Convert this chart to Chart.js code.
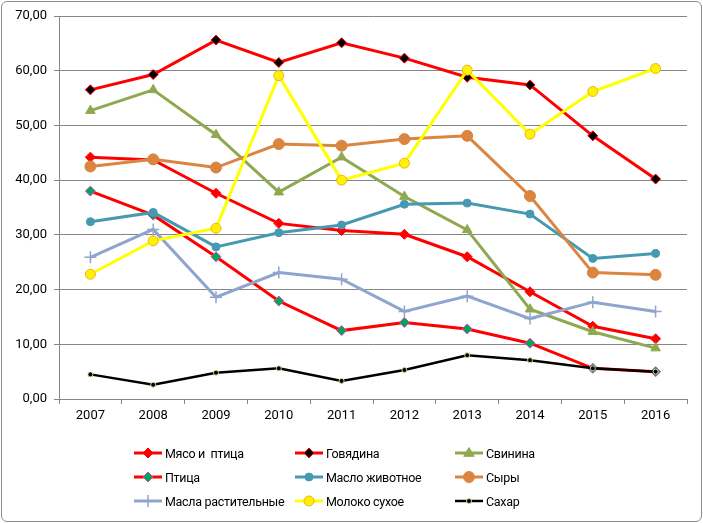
<!DOCTYPE html>
<html>
<head>
<meta charset="utf-8">
<script src="https://cdn.jsdelivr.net/npm/chart.js@4.4.0/dist/chart.umd.min.js"></script>
<style>
  html, body { margin: 0; padding: 0; background: #fff; }
  #wrap { position: relative; width: 703px; height: 523px; }
  #frame { position: absolute; left: 1px; top: 1px; width: 699px; height: 519px; border: 1px solid #8c8c8c; border-radius: 6px; pointer-events: none; }
  canvas { position: absolute; left: 0; top: 0; }
  #legend { position: absolute; left: 0; top: 0; width: 703px; height: 523px; pointer-events: none; font-family: Roboto, "Liberation Sans", sans-serif; font-size: 12.5px; letter-spacing: -0.3px; color: #000; }
  .item { position: absolute; height: 20px; display: flex; align-items: center; white-space: pre; }
  .item svg { margin-right: 2px; }
</style>
</head>
<body>
<div id="wrap">
  <canvas id="c" width="703" height="523"></canvas>
  <div id="legend"></div>
  <div id="frame"></div>
</div>
<script>
const categories = ['2007','2008','2009','2010','2011','2012','2013','2014','2015','2016'];
const seriesNames = ['Мясо и  птица','Говядина','Свинина','Птица','Масло животное','Сыры','Масла растительные','Молоко сухое','Сахар'];

const myasoIPtitsa     = [44.2, 43.7, 37.6, 32.1, 30.8, 30.1, 26.0, 19.6, 13.3, 11.0];
const govyadina        = [56.5, 59.3, 65.6, 61.5, 65.1, 62.3, 58.8, 57.4, 48.1, 40.2];
const svinina          = [52.7, 56.5, 48.3, 37.8, 44.2, 37.0, 30.9, 16.4, 12.3, 9.3];
const ptitsa           = [38.0, 33.6, 26.0, 17.9, 12.5, 14.0, 12.8, 10.2, 5.6, 5.0];
const masloZhivotnoe   = [32.4, 34.1, 27.8, 30.4, 31.8, 35.6, 35.8, 33.8, 25.7, 26.6];
const syry             = [42.5, 43.8, 42.3, 46.6, 46.3, 47.5, 48.1, 37.1, 23.1, 22.7];
const maslaRastitelnye = [25.9, 31.0, 18.6, 23.1, 21.9, 16.0, 18.8, 14.7, 17.7, 16.0];
const molokoSukhoe     = [22.8, 28.9, 31.2, 59.1, 40.0, 43.1, 60.1, 48.4, 56.2, 60.4];
const sakhar           = [4.5, 2.6, 4.8, 5.6, 3.3, 5.3, 8.0, 7.1, 5.6, 5.0];

const yTicks = [0, 10, 20, 30, 40, 50, 60, 70];

const values = [myasoIPtitsa, govyadina, svinina, ptitsa, masloZhivotnoe, syry, maslaRastitelnye, molokoSukhoe, sakhar];

const styles = [
  { line: '#FF0000', fill: '#FF0000', border: '#FF0000', shape: 'rectRot', r: 5, bw: 1, lw: 3 },
  { line: '#FF0000', fill: '#000000', border: '#FF0000', shape: 'rectRot', r: 5, bw: 1, lw: 3 },
  { line: '#8EA94F', fill: '#8EA94F', border: '#8EA94F', shape: 'triangle', r: 5.5, bw: 1, lw: 3 },
  { line: '#FF0000', fill: '#00A651', border: '#E040C8', shape: 'rectRot', r: 5, bw: 1, lw: 3 },
  { line: '#4799B2', fill: '#4799B2', border: '#4799B2', shape: 'circle', r: 4, bw: 1, lw: 3 },
  { line: '#DA8540', fill: '#DA8540', border: '#DA8540', shape: 'circle', r: 5.5, bw: 1, lw: 3 },
  { line: '#8FA5CD', fill: '#8FA5CD', border: '#8FA5CD', shape: 'cross', r: 6, bw: 1.5, lw: 3 },
  { line: '#FFFF00', fill: '#FFF200', border: '#F0B020', shape: 'circle', r: 5, bw: 1, lw: 3 },
  { line: '#000000', fill: '#000000', border: '#C8DC9A', shape: 'circle', r: 2.5, bw: 1, lw: 2.5 }
];

const datasets = values.map((v, i) => ({
  label: seriesNames[i],
  data: v,
  borderColor: styles[i].line,
  borderWidth: styles[i].lw,
  backgroundColor: styles[i].fill,
  pointStyle: styles[i].shape,
  pointRadius: styles[i].r,
  pointBackgroundColor: styles[i].fill,
  pointBorderColor: styles[i].border,
  pointBorderWidth: styles[i].bw,
  pointHoverRadius: styles[i].r,
  tension: 0,
  fill: false,
  order: 9 - i
}));

const fmt = v => v.toFixed(2).replace('.', ',');

new Chart(document.getElementById('c'), {
  type: 'line',
  data: { labels: categories, datasets },
  options: {
    responsive: false,
    animation: false,
    devicePixelRatio: 1,
    layout: { padding: { top: 16, right: 16, left: 0, bottom: 94 } },
    plugins: { legend: { display: false }, tooltip: { enabled: false } },
    scales: {
      x: {
        type: 'category',
        offset: true,
        grid: { display: true, offset: true, drawOnChartArea: false, drawTicks: true, tickLength: 5, color: '#868686', lineWidth: 1 },
        border: { display: true, color: '#868686', width: 1 },
        ticks: { color: '#000', font: { family: 'Roboto, "Liberation Sans", sans-serif', size: 13 }, padding: 4, maxRotation: 0 },
        afterFit: s => { s.height = 30; }
      },
      y: {
        min: 0, max: 70,
        afterBuildTicks: s => { s.ticks = yTicks.map(v => ({ value: v })); },
        grid: { color: '#868686', lineWidth: 1, drawTicks: true, tickLength: 5 },
        border: { display: true, color: '#868686', width: 1 },
        ticks: { color: '#000', font: { family: 'Roboto, "Liberation Sans", sans-serif', size: 13 }, padding: 7, callback: v => fmt(v) },
        afterFit: s => { s.width = 59; }
      }
    }
  }
});

// HTML legend
function markerSvg(st) {
  const cx = 14, cy = 10, r = st.r;
  let m = '';
  if (st.shape === 'rectRot') {
    m = `<polygon points="${cx},${cy-r} ${cx+r},${cy} ${cx},${cy+r} ${cx-r},${cy}" fill="${st.fill}" stroke="${st.border}" stroke-width="${st.bw}"/>`;
  } else if (st.shape === 'triangle') {
    m = `<polygon points="${cx},${cy-r} ${cx+r*0.95},${cy+r*0.6} ${cx-r*0.95},${cy+r*0.6}" fill="${st.fill}" stroke="${st.border}" stroke-width="${st.bw}"/>`;
  } else if (st.shape === 'circle') {
    m = `<circle cx="${cx}" cy="${cy}" r="${r}" fill="${st.fill}" stroke="${st.border}" stroke-width="${st.bw}"/>`;
  } else if (st.shape === 'cross') {
    m = `<line x1="${cx}" y1="${cy-r}" x2="${cx}" y2="${cy+r}" stroke="${st.border}" stroke-width="${st.bw}"/>`;
  }
  return `<svg width="29" height="20"><line x1="0" y1="${cy}" x2="28" y2="${cy}" stroke="${st.line}" stroke-width="${st.lw}"/>${m}</svg>`;
}
const colX = [134, 295, 455];
const rowY = [443, 467, 491];
const leg = document.getElementById('legend');
seriesNames.forEach((n, i) => {
  const d = document.createElement('div');
  d.className = 'item';
  d.style.left = colX[i % 3] + 'px';
  d.style.top = rowY[Math.floor(i / 3)] + 'px';
  d.innerHTML = markerSvg(styles[i]) + '<span>' + n + '</span>';
  leg.appendChild(d);
});
</script>
</body>
</html>
